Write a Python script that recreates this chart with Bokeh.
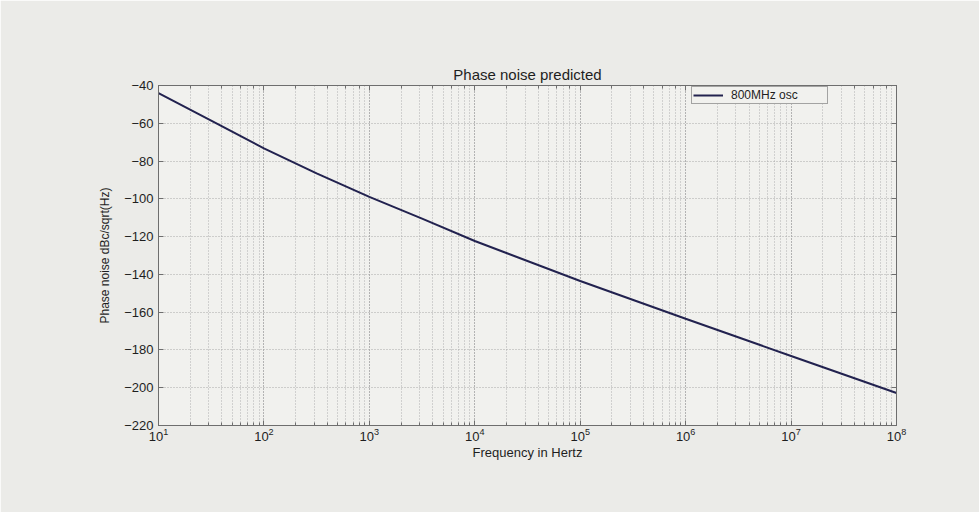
from bokeh.plotting import figure
from bokeh.models import (LogAxis, LinearAxis, FixedTicker, LogTicker, Legend,
                          LegendItem, CustomJSTickFormatter)
from bokeh.embed import file_html
from bokeh.resources import INLINE

# ---- data ----
freq_hz = [10, 31.6, 100, 316, 1000, 3162, 10000, 100000, 1000000, 10000000, 100000000]
phase_noise_dbc = [-44.0, -58.6, -73.3, -86.5, -99.0, -110.5, -122.3, -143.5, -163.5, -183.2, -202.8]
y_ticks = [-220, -200, -180, -160, -140, -120, -100, -80, -60, -40]
series_label = "800MHz osc"
title_text = "Phase noise predicted"
x_label = "Frequency in Hertz"
y_label = "Phase noise dBc/sqrt(Hz)"

FONT = "Liberation Sans"
PAGE = "#ebebe8"
PLOT_BG = "#f1f1ee"
AXIS_C = "#6e6e6e"
GRID_C = "#a8a8a8"

p = figure(frame_width=738, frame_height=340,
           min_border_left=158, min_border_right=83,
           min_border_top=85, min_border_bottom=87,
           x_axis_type="log", x_range=(10, 1e8), y_range=(-220, -40),
           output_backend="svg", toolbar_location=None, title=title_text)

p.background_fill_color = PLOT_BG
p.border_fill_color = PAGE
p.outline_line_color = AXIS_C
p.outline_line_width = 1

p.title.align = "center"
p.title.text_font = FONT
p.title.text_font_style = "normal"
p.title.text_font_size = "15px"
p.title.text_color = "#1e1e1e"
p.title.standoff = 5

# grids (MATLAB style dotted)
for g in (p.xgrid, p.ygrid):
    g.grid_line_color = GRID_C
    g.grid_line_dash = "1 2"
    g.grid_line_width = 1
p.xgrid.minor_grid_line_color = GRID_C
p.xgrid.minor_grid_line_dash = "1 2"
p.xgrid.minor_grid_line_alpha = 0.9

def style_axis(ax, minor=True):
    ax.axis_line_color = AXIS_C
    ax.major_tick_line_color = AXIS_C
    ax.major_tick_in = 5
    ax.major_tick_out = 0
    if minor:
        ax.minor_tick_line_color = AXIS_C
        ax.minor_tick_in = 3
        ax.minor_tick_out = 0
    else:
        ax.minor_tick_line_color = None
    ax.major_label_text_font = FONT
    ax.major_label_text_font_size = "13px"
    ax.major_label_text_color = "#1e1e1e"
    ax.axis_label_text_font = FONT
    ax.axis_label_text_font_style = "normal"
    ax.axis_label_text_color = "#1e1e1e"

xa = p.xaxis[0]
style_axis(xa)
xa.axis_label = x_label
xa.axis_label_text_font_size = "13px"
xa.major_label_standoff = 2
xa.axis_label_standoff = 1

ya = p.yaxis[0]
ya.ticker = FixedTicker(ticks=y_ticks)
style_axis(ya, minor=False)
ya.axis_label = y_label
ya.axis_label_text_font_size = "12px"
ya.major_label_standoff = 5
ya.axis_label_standoff = 9

blank = CustomJSTickFormatter(code="return ''")
top = LogAxis(ticker=LogTicker(), formatter=blank)
style_axis(top)
top.major_label_standoff = 0
top.major_label_text_font_size = "1px"
p.add_layout(top, "above")

right = LinearAxis(ticker=FixedTicker(ticks=y_ticks), formatter=blank)
style_axis(right, minor=False)
right.major_label_text_font_size = "1px"
p.add_layout(right, "right")

r = p.line(freq_hz, phase_noise_dbc, line_color="#22224f", line_width=2)

legend = Legend(items=[LegendItem(label=series_label, renderers=[r])],
                location=(533, 321))
legend.label_text_font = FONT
legend.label_text_font_size = "12px"
legend.label_text_color = "#1e1e1e"
legend.label_height = 10
legend.glyph_height = 10
legend.glyph_width = 30
legend.label_width = 95
legend.label_standoff = 8
legend.padding = 1
legend.margin = 0
legend.spacing = 0
legend.border_line_color = "#555555"
legend.border_line_width = 1
legend.background_fill_color = PLOT_BG
legend.background_fill_alpha = 1
p.add_layout(legend)

open("out.html", "w").write(file_html(p, INLINE))
